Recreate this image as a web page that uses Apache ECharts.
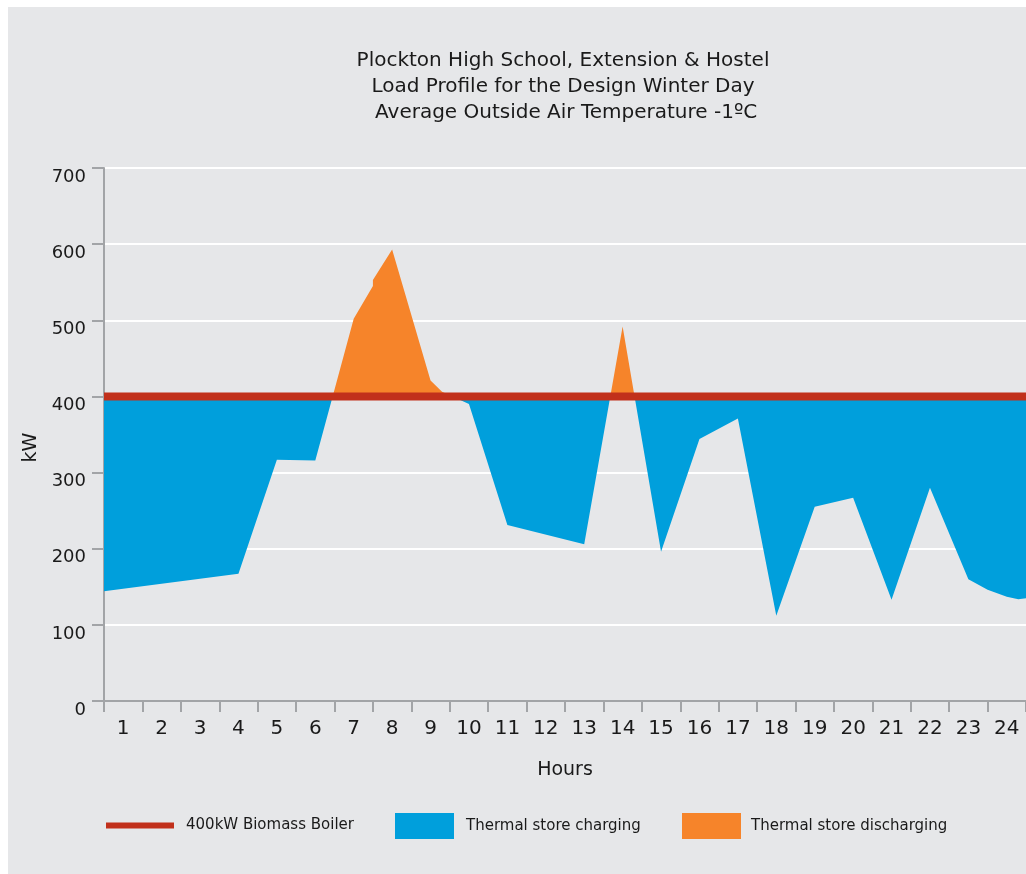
<!DOCTYPE html>
<html>
<head>
<meta charset="utf-8">
<script src="https://cdn.jsdelivr.net/npm/echarts@6/dist/echarts.min.js"></script>
<style>
html,body{margin:0;padding:0;background:#ffffff;}
#chart{width:1026px;height:874px;}
</style>
</head>
<body>
<div id="chart"></div>
<script>
// ---- data ----
var hourLabels = ['1','2','3','4','5','6','7','8','9','10','11','12','13','14','15','16','17','18','19','20','21','22','23','24'];
var loadHours = [0.5, 4, 5, 6, 7, 7.5, 7.5, 8, 9, 9.3, 10, 11, 13, 14, 15, 16, 17, 18, 19, 20, 21, 22, 23, 23.5, 24, 24.3, 24.5];
var loadKW    = [144, 167, 317, 316, 502, 545, 553, 593, 421, 406, 390, 231, 206, 492, 196, 344, 371, 112, 255, 267, 133, 280, 160, 146, 137, 133.5, 135];
var boilerHours = [0.5, 24.5];
var boilerKW = [400, 400];
var boilerCapacity = 400;
var yTicks = [0, 100, 200, 300, 400, 500, 600, 700];
var titleLines = ['Plockton High School, Extension & Hostel', 'Load Profile for the Design Winter Day', ' Average Outside Air Temperature -1ºC'];
var legendNames = ['400kW Biomass Boiler', 'Thermal store charging', 'Thermal store discharging'];

var BLUE = '#009fdc', ORANGE = '#f6842a', RED = '#c1301b', AXIS = '#a2a4a7', BG = '#e6e7e9';
var FONT = 'DejaVu Sans, Liberation Sans, sans-serif';

function zip(a, b) { return a.map(function (v, i) { return [v, b[i]]; }); }

var chart = echarts.init(document.getElementById('chart'), null, {renderer: 'canvas'});
chart.setOption({
  animation: false,
  backgroundColor: '#ffffff',
  graphic: [{
    type: 'rect', z: -100, silent: true,
    shape: {x: 8, y: 7, width: 1018, height: 867},
    style: {fill: BG}
  }],
  title: {
    text: titleLines.join('\n'),
    left: 563, top: 48, padding: 0,
    textAlign: 'center',
    textStyle: {fontFamily: FONT, fontSize: 20, fontWeight: 'normal', color: '#1a1a1a', lineHeight: 26}
  },
  legend: [
    {data: [legendNames[0]], left: 106, top: 818, padding: 0, selectedMode: false,
     icon: 'rect', itemWidth: 68, itemHeight: 6,
     textStyle: {fontFamily: FONT, fontSize: 15, color: '#1a1a1a', padding: [0, 0, 0, 7]}},
    {data: [legendNames[1]], left: 395, top: 813, padding: 0, selectedMode: false,
     icon: 'rect', itemWidth: 59, itemHeight: 26,
     textStyle: {fontFamily: FONT, fontSize: 15, color: '#1a1a1a', padding: [0, 0, 0, 7]}},
    {data: [legendNames[2]], left: 682, top: 813, padding: 0, selectedMode: false,
     icon: 'rect', itemWidth: 59, itemHeight: 26,
     textStyle: {fontFamily: FONT, fontSize: 15, color: '#1a1a1a', padding: [0, 0, 0, 5]}}
  ],
  grid: {left: 104, right: 0, top: 168, bottom: 173, containLabel: false},
  visualMap: {
    show: false, type: 'piecewise', seriesIndex: 0, dimension: 1,
    pieces: [
      {gte: -1000, lt: boilerCapacity, color: BLUE},
      {gte: boilerCapacity, lt: 2000, color: ORANGE}
    ]
  },
  xAxis: [{
    type: 'category', data: hourLabels, boundaryGap: true,
    name: 'Hours', nameLocation: 'middle', nameGap: 60,
    nameTextStyle: {fontFamily: FONT, fontSize: 19, color: '#1a1a1a'},
    axisLine: {show: true, lineStyle: {color: AXIS, width: 2}},
    axisTick: {show: true, inside: false, length: 11, lineStyle: {color: AXIS, width: 2}},
    axisLabel: {fontFamily: FONT, fontSize: 20, color: '#1a1a1a', margin: 18},
    splitLine: {show: false}
  }, {
    type: 'value', min: 0.5, max: 24.5, show: false
  }],
  yAxis: {
    type: 'value', min: 0, max: 700, interval: 100,
    name: 'kW', nameLocation: 'middle', nameGap: 60, nameRotate: 90,
    nameTextStyle: {fontFamily: FONT, fontSize: 19, color: '#1a1a1a', padding: [0, 26, 0, 0]},
    axisLine: {show: true, lineStyle: {color: AXIS, width: 2}},
    axisTick: {show: true, inside: false, length: 12, lineStyle: {color: AXIS, width: 2}},
    axisLabel: {fontFamily: FONT, fontSize: 18, color: '#1a1a1a', margin: 18, verticalAlign: 'top',
      formatter: function (v) { return yTicks.indexOf(v) >= 0 ? String(v) : ''; }},
    splitLine: {show: true, lineStyle: {color: '#ffffff', width: 2}}
  },
  series: [{
    name: 'Load', type: 'line', xAxisIndex: 1,
    data: zip(loadHours, loadKW),
    symbol: 'none', silent: true,
    lineStyle: {width: 0},
    areaStyle: {origin: boilerCapacity, opacity: 1},
    z: 2
  }, {
    name: legendNames[0], type: 'line', xAxisIndex: 1,
    data: zip(boilerHours, boilerKW),
    symbol: 'none', silent: true,
    color: RED,
    lineStyle: {width: 8, color: RED},
    z: 4
  }, {
    name: legendNames[1], type: 'bar', xAxisIndex: 0, data: [], color: BLUE
  }, {
    name: legendNames[2], type: 'bar', xAxisIndex: 0, data: [], color: ORANGE
  }]
});
</script>
</body>
</html>
